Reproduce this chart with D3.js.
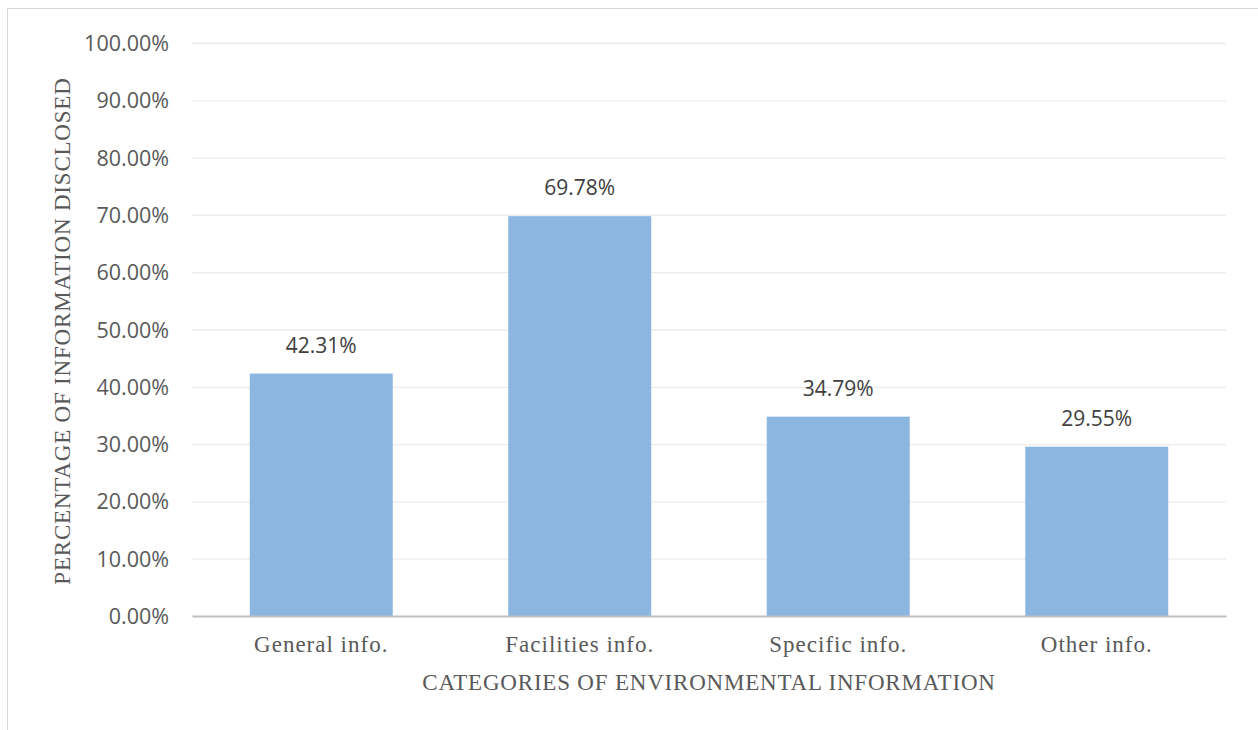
<!DOCTYPE html>
<html><head><meta charset="utf-8">
<script src="https://cdn.jsdelivr.net/npm/d3@7"></script>
<style>html,body{margin:0;padding:0;background:#fff;}</style>
</head><body>
<svg id="c" width="1258" height="730"></svg>
<script>
const categories = ["General info.", "Facilities info.", "Specific info.", "Other info."];
const values = [42.31, 69.78, 34.79, 29.55];
const yTicks = [0, 10, 20, 30, 40, 50, 60, 70, 80, 90, 100];
const yTitle = "PERCENTAGE OF INFORMATION DISCLOSED";
const xTitle = "CATEGORIES OF ENVIRONMENTAL INFORMATION";

const svg = d3.select("#c");
// frame
svg.append("rect").attr("x", 7.5).attr("y", 8.5).attr("width", 1270).attr("height", 740)
  .attr("fill", "none").attr("stroke", "#d9d9d9").attr("stroke-width", 1);

const x = d3.scaleBand().domain(categories).range([192, 1226]).paddingInner(0.447).paddingOuter(0.2235);
const y = d3.scaleLinear().domain([0, 100]).range([616, 43]);

// gridlines
svg.append("g").selectAll("line").data(yTicks.filter(d => d > 0)).join("line")
  .attr("x1", 192).attr("x2", 1226)
  .attr("y1", d => y(d) + 0.5).attr("y2", d => y(d) + 0.5)
  .attr("stroke", "#ececec").attr("stroke-width", 1.3);

// y tick labels
const yAxis = d3.axisLeft(y).tickValues(yTicks).tickFormat(d => d.toFixed(2) + "%").tickSize(0).tickPadding(0);
const gy = svg.append("g").attr("transform", "translate(169,0)").call(yAxis);
gy.select(".domain").remove();
gy.selectAll("text").attr("font-family", "'Open Sans', sans-serif").attr("font-size", 21.5)
  .attr("fill", "#595959").attr("dy", "0.35em");

// bars
svg.append("g").selectAll("rect").data(values).join("rect")
  .attr("x", (d, i) => x(categories[i]))
  .attr("width", x.bandwidth())
  .attr("y", d => y(d))
  .attr("height", d => y(0) - y(d))
  .attr("fill", "#8ab6e0");

// data labels
svg.append("g").selectAll("text").data(values).join("text")
  .attr("x", (d, i) => x(categories[i]) + x.bandwidth() / 2)
  .attr("y", d => y(d) - 21)
  .attr("text-anchor", "middle")
  .attr("font-family", "'Open Sans', sans-serif").attr("font-size", 21)
  .attr("fill", "#404040")
  .text(d => d.toFixed(2) + "%");

// x axis
const xAxis = d3.axisBottom(x).tickSize(0).tickPadding(0);
const gx = svg.append("g").attr("transform", "translate(0,616)").call(xAxis);
gx.select(".domain").attr("stroke", "#bfbfbf").attr("stroke-width", 2.2);
gx.selectAll("text").attr("font-family", "'Liberation Serif', serif").attr("font-size", 23)
  .attr("letter-spacing", "1px")
  .attr("fill", "#595959").attr("dy", "0").attr("y", 36);

// axis titles
svg.append("text").attr("x", 709).attr("y", 690).attr("text-anchor", "middle")
  .attr("font-family", "'Liberation Serif', serif").attr("font-size", 23).attr("letter-spacing", "0.8px")
  .attr("fill", "#595959")
  .text(xTitle);
svg.append("text").attr("transform", "translate(70,331) rotate(-90)").attr("text-anchor", "middle")
  .attr("font-family", "'Liberation Serif', serif").attr("font-size", 23).attr("letter-spacing", "0.8px")
  .attr("fill", "#595959")
  .text(yTitle);
</script>
</body></html>
